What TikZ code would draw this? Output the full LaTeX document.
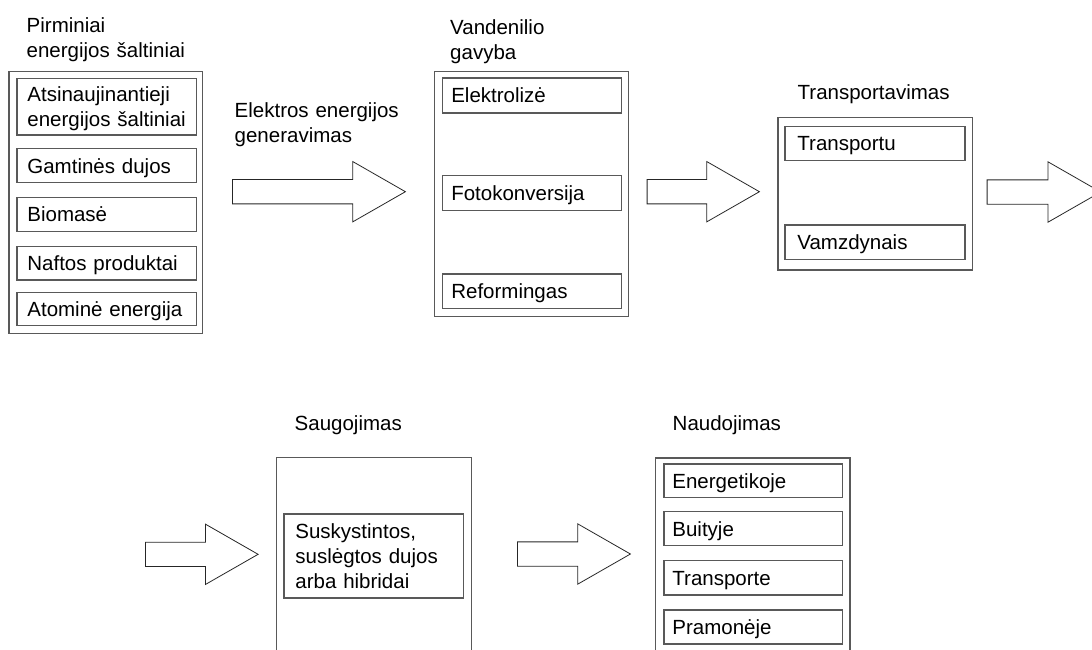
\documentclass[tikz,border=0pt]{standalone}
\usepackage{fontspec}
\setmainfont{Liberation Sans}
\usetikzlibrary{shapes.arrows}

\begin{document}
\begin{tikzpicture}[x=1pt,y=-1pt,
	every node/.style={black,font=\fontsize{20.5}{25}\selectfont},
	title/.style={anchor=base west,inner sep=0pt,text width=230pt,align=left},
	group/.style={draw=black!65,line width=1.2pt,anchor=north west,inner sep=0pt},
	item/.style={draw=black!65,line width=1.2pt,anchor=north west,align=left,inner ysep=0pt,text height=15pt,text depth=0pt},
	flow/.style={draw=black!85,line width=0.8pt,single arrow,anchor=tail,minimum height=#1,inner xsep=0pt,inner ysep=11.75pt,
		single arrow head extend=18pt,single arrow tip angle=59.6}]
	\useasboundingbox (0,0) rectangle (1092,649);
	\clip (0,0) rectangle (1092,649);

%	upper row: (left, top) of each box in px
	\node[title] (tsrc) at (26.5,32.3) {Pirminiai\\energijos šaltiniai};
	\node[group,minimum width=193.7pt,minimum height=262.3pt] (src) at (8.3,70.7) {};
	\node[item,text width=158.4pt,inner xsep=10.5pt,minimum height=56.6pt,text depth=25pt] (atsin) at (16.3,77.7) {Atsinaujinantieji\\energijos šaltiniai};
	\node[item,text width=158.4pt,inner xsep=10.5pt,minimum height=34pt] (gamt) at (16.3,148) {Gamtinės dujos};
	\node[item,text width=158.4pt,inner xsep=10.5pt,minimum height=33.7pt] (biom) at (16.3,197) {Biomasė};
	\node[item,text width=158.4pt,inner xsep=10.5pt,minimum height=33.3pt] (naft) at (16.3,246) {Naftos produktai};
	\node[item,text width=158.4pt,inner xsep=10.5pt,minimum height=33.3pt] (atom) at (16.3,291.7) {Atominė energija};

	\node[title] (tgen) at (234.5,117.3) {Elektros energijos\\generavimas};
%	arrows: tail point, length
	\node[flow=173pt] (gen) at (232,191.7) {};

	\node[title] (tgav) at (450,34.5) {Vandenilio\\gavyba};
	\node[group,minimum width=194pt,minimum height=245pt] (gav) at (434,71) {};
	\node[item,text width=161pt,inner xsep=9pt,minimum height=35pt] (elek) at (441.7,77.3) {Elektrolizė};
	\node[item,text width=161pt,inner xsep=9pt,minimum height=35pt] (foto) at (441.7,175) {Fotokonversija};
	\node[item,text width=161pt,inner xsep=9pt,minimum height=34.4pt] (refo) at (441.7,273.3) {Reformingas};

	\node[flow=112.3pt] (a2) at (646.7,191.7) {};

	\node[title] (ttrn) at (797.5,99.3) {Transportavimas};
	\node[group,minimum width=194.4pt,minimum height=152.6pt] (trn) at (777.3,116.7) {};
	\node[item,text width=155pt,inner xsep=12.5pt,minimum height=34.3pt] (trsp) at (784.3,125.7) {Transportu};
	\node[item,text width=155pt,inner xsep=12.5pt,minimum height=34.4pt] (vamz) at (784.3,224.3) {Vamzdynais};

	\node[flow=113.6pt] (a3) at (986.7,192) {};

%	lower row
	\node[flow=112.7pt] (a4) at (145,554.3) {};

	\node[title] (tsaug) at (294.5,430) {Saugojimas};
	\node[group,minimum width=195pt,minimum height=220pt] (saug) at (275.7,456.7) {};
	\node[item,text width=156.4pt,inner xsep=11.5pt,minimum height=84pt,text depth=49pt] (susk) at (283.3,513.3) {Suskystintos,\\suslėgtos dujos\\arba hibridai};

	\node[flow=113pt] (a5) at (517,554) {};

	\node[title] (tnaud) at (672.5,430) {Naudojimas};
	\node[group,minimum width=194.3pt,minimum height=220pt] (naud) at (655,457.3) {};
	\node[item,text width=161.7pt,inner xsep=8.5pt,minimum height=33.4pt] (ener) at (663.3,463.3) {Energetikoje};
	\node[item,text width=161.7pt,inner xsep=8.5pt,minimum height=34pt] (buit) at (663.3,511) {Buityje};
	\node[item,text width=161.7pt,inner xsep=8.5pt,minimum height=34.3pt] (trspt) at (663.3,560) {Transporte};
	\node[item,text width=161.7pt,inner xsep=8.5pt,minimum height=34pt] (pram) at (663.3,609.3) {Pramonėje};
\end{tikzpicture}
\end{document}
